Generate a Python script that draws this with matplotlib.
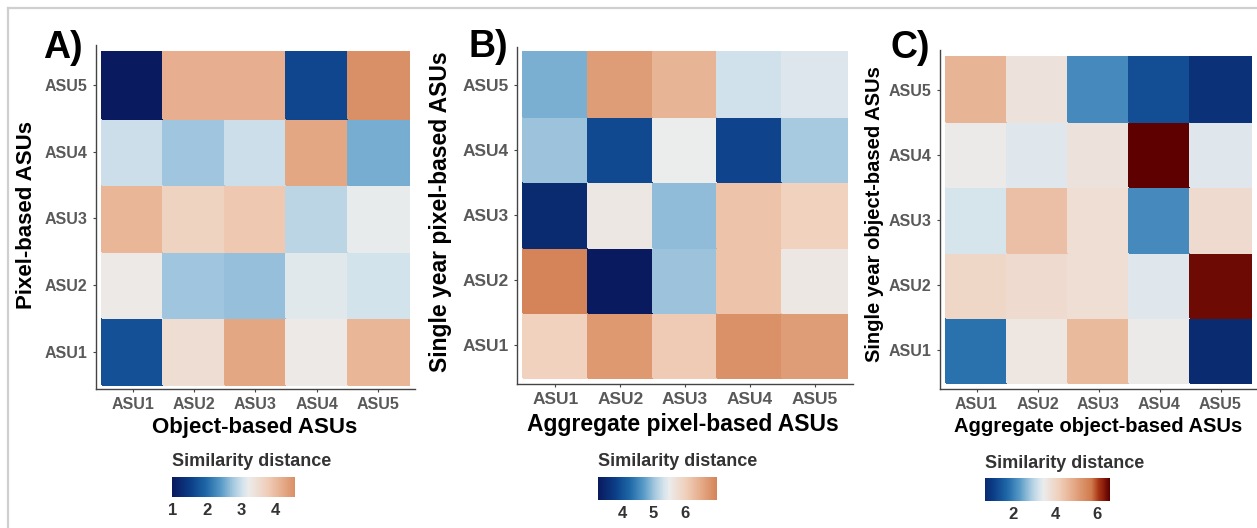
import numpy as np
import matplotlib
matplotlib.use("Agg")
import matplotlib.pyplot as plt
from matplotlib.colors import LinearSegmentedColormap, Normalize
from matplotlib.lines import Line2D

plt.rcParams['font.family'] = ['Liberation Sans', 'DejaVu Sans']

W, H = 1257, 528

ASU_LABELS = ["ASU1", "ASU2", "ASU3", "ASU4", "ASU5"]

# rows = y-axis ASU1..ASU5 (bottom to top), cols = x-axis ASU1..ASU5
dist_a = np.array([
    [1.70, 3.50, 4.30, 3.30, 4.10],
    [3.30, 2.75, 2.70, 3.15, 3.05],
    [4.10, 3.70, 3.85, 2.90, 3.20],
    [3.00, 2.75, 3.00, 4.30, 2.55],
    [0.97, 4.20, 4.20, 1.60, 4.59],
])

dist_b = np.array([
    [6.00, 6.75, 6.10, 6.85, 6.70],
    [7.02, 3.24, 5.00, 6.20, 5.60],
    [3.50, 5.60, 4.95, 6.20, 6.00],
    [5.00, 3.90, 5.50, 3.85, 5.05],
    [4.85, 6.70, 6.40, 5.30, 5.40],
])

dist_c = np.array([
    [1.80, 3.60, 4.60, 3.50, 0.65],
    [4.00, 3.90, 3.80, 3.30, 6.50],
    [3.20, 4.50, 3.80, 2.10, 3.90],
    [3.50, 3.30, 3.70, 6.60, 3.30],
    [4.70, 3.70, 2.10, 1.30, 0.80],
])

xlabels = ["Object-based ASUs", "Aggregate pixel-based ASUs", "Aggregate object-based ASUs"]
ylabels = ["Pixel-based ASUs", "Single year pixel-based ASUs", "Single year object-based ASUs"]
panel_tags = ["A)", "B)", "C)"]
cbar_ticks = [[1, 2, 3, 4], [4, 5, 6], [2, 4, 6]]

# blue - white - orange/darkred diverging ramp
cmap = LinearSegmentedColormap.from_list("simdist", [
    (0.00, "#0a1a5e"), (0.12, "#0c3f88"), (0.22, "#1f68a8"), (0.32, "#5a9cc8"),
    (0.40, "#a8cae0"), (0.46, "#d4e3ec"), (0.50, "#ececec"), (0.62, "#f0cfba"),
    (0.72, "#e6ad8c"), (0.80, "#da9066"), (0.86, "#d27c50"), (0.92, "#a83414"),
    (1.00, "#5e0000"),
])

# pixel layout: spine box, tile box, label centres, colourbar box
layout = [
    dict(spine=(96, 45, 415, 389), tiles=(102, 52, 409, 385), tag=(63, 48),
         ylab=(27, 215), xlab=(255, 428), labsize=16, ticksize=11.5,
         cbar=(172, 477, 295, 497), cbar_title_y=462),
    dict(spine=(517, 47, 853, 384), tiles=(523, 52, 847, 378), tag=(488, 47),
         ylab=(441, 212), xlab=(683, 425), labsize=16.5, ticksize=12.5,
         cbar=(598, 477, 717, 500), cbar_title_y=462),
    dict(spine=(940, 50, 1257, 389), tiles=(946, 57, 1251, 383), tag=(910, 48),
         ylab=(875, 214), xlab=(1098, 427), labsize=14.5, ticksize=11.5,
         cbar=(985, 478, 1110, 501), cbar_title_y=463),
]


def px_axes(fig, left, top, right, bottom):
    return fig.add_axes([left / W, 1 - bottom / H, (right - left) / W, (bottom - top) / H])


def fx(x):
    return x / W


def fy(y):
    return 1 - y / H


fig = plt.figure(figsize=(W / 100, H / 100), dpi=100)
fig.patch.set_facecolor("white")

for data, lay, xl, yl, tag, ticks in zip([dist_a, dist_b, dist_c], layout,
                                         xlabels, ylabels, panel_tags, cbar_ticks):
    sl, st, sr, sb = lay["spine"]
    tl, tt, tr, tb = lay["tiles"]
    ax = px_axes(fig, sl, st, sr, sb)

    mid = data.mean()
    half = max(mid - data.min(), data.max() - mid)
    norm = Normalize(mid - half, mid + half)

    edges = np.arange(0.5, 6.0, 1.0)
    ax.pcolormesh(edges, edges, data, cmap=cmap, norm=norm,
                  edgecolors="face", linewidth=0.3, antialiased=False)

    ux = (tr - tl) / 5
    uy = (tb - tt) / 5
    ax.set_xlim(0.5 - (tl - sl) / ux, 5.5 + (sr - tr) / ux)
    ax.set_ylim(0.5 - (sb - tb) / uy, 5.5 + (tt - st) / uy)

    ax.set_xticks(range(1, 6))
    ax.set_yticks(range(1, 6))
    ax.set_xticklabels(ASU_LABELS)
    ax.set_yticklabels(ASU_LABELS)
    ax.tick_params(length=2.5, width=0.8, color="#444444", pad=3.5,
                   labelsize=lay["ticksize"], labelcolor="#595959")
    for lbl in ax.get_xticklabels() + ax.get_yticklabels():
        lbl.set_fontweight("bold")

    for side in ["top", "right"]:
        ax.spines[side].set_visible(False)
    for side in ["left", "bottom"]:
        ax.spines[side].set_color("#444444")
        ax.spines[side].set_linewidth(1.0)

    fig.text(fx(lay["ylab"][0]), fy(lay["ylab"][1]), yl, rotation=90,
             ha="center", va="center", fontsize=lay["labsize"], fontweight="bold")
    fig.text(fx(lay["xlab"][0]), fy(lay["xlab"][1]), xl,
             ha="center", va="center", fontsize=lay["labsize"], fontweight="bold")
    fig.text(fx(lay["tag"][0]), fy(lay["tag"][1]), tag,
             ha="center", va="center", fontsize=27, fontweight="bold")

    # colour bar legend
    cl, ct, cr, cb = lay["cbar"]
    cax = px_axes(fig, cl, ct, cr, cb)
    grad = np.linspace(data.min(), data.max(), 256)[None, :]
    cax.imshow(grad, aspect="auto", cmap=cmap, norm=norm,
               extent=[data.min(), data.max(), 0, 1])
    cax.set_yticks([])
    cax.set_xticks(ticks)
    cax.set_xticklabels([str(t) for t in ticks])
    cax.tick_params(length=0, pad=4, labelsize=12, labelcolor="#333333")
    for lbl in cax.get_xticklabels():
        lbl.set_fontweight("bold")
    for s in cax.spines.values():
        s.set_visible(False)
    fig.text(fx(cl), fy(lay["cbar_title_y"]), "Similarity distance",
             ha="left", va="center", fontsize=13, fontweight="bold", color="#333333")

# light frame along top and left edge
fig.add_artist(Line2D([fx(8), 1], [fy(8), fy(8)], color="#cfcfcf", lw=1.6))
fig.add_artist(Line2D([fx(8), fx(8)], [0, fy(8)], color="#cfcfcf", lw=1.6))

fig.savefig("out.png", dpi=100, facecolor="white")
